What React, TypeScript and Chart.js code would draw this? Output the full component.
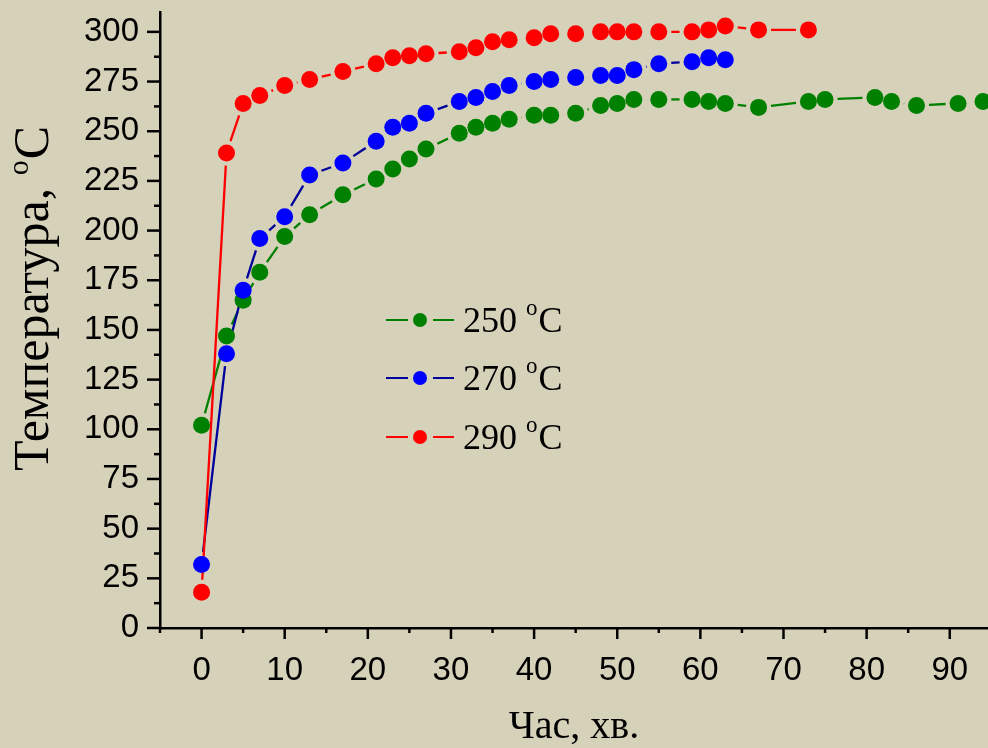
import React, { useEffect, useRef } from 'react';
import { Chart, registerables } from 'chart.js';

Chart.register(...registerables);

// ---- data ----
const t250 = [0, 3, 5, 7, 10, 13, 17, 21, 23, 25, 27, 31, 33, 35, 37, 40, 42, 45, 48, 50, 52, 55, 59, 61, 63, 67, 73, 75, 81, 83, 86, 91, 94];
const T250 = [102, 147, 165, 179, 197, 208, 218, 226, 231, 236, 241, 249, 252, 254, 256, 258, 258, 259, 263, 264, 266, 266, 266, 265, 264, 262, 265, 266, 267, 265, 263, 264, 265];

const t270 = [0, 3, 5, 7, 10, 13, 17, 21, 23, 25, 27, 31, 33, 35, 37, 40, 42, 45, 48, 50, 52, 55, 59, 61, 63];
const T270 = [32, 138, 170, 196, 207, 228, 234, 245, 252, 254, 259, 265, 267, 270, 273, 275, 276, 277, 278, 278, 281, 284, 285, 287, 286];

const t290 = [0, 3, 5, 7, 10, 13, 17, 21, 23, 25, 27, 31, 33, 35, 37, 40, 42, 45, 48, 50, 52, 55, 59, 61, 63, 67, 73];
const T290 = [18, 239, 264, 268, 273, 276, 280, 284, 287, 288, 289, 290, 292, 295, 296, 297, 299, 299, 300, 300, 300, 300, 300, 301, 303, 301, 301];

const xTicks = [0, 10, 20, 30, 40, 50, 60, 70, 80, 90];
const yTicks = [0, 25, 50, 75, 100, 125, 150, 175, 200, 225, 250, 275, 300];

const seriesLabels = ['250', '270', '290'];
const xTitle = 'Час, хв.';
const yTitle = 'Температура, ';
const supO = 'o';
const unitC = 'C';

// ---- styles ----
const BG = '#d6d1b9';
const markerColors = ['#008000', '#0000ff', '#ff0000'];
const lineColors = ['#008000', '#00009c', '#ff0000'];
const GAP = 12.5;

const toPts = (xs: number[], ys: number[]) => xs.map((x, i) => ({ x, y: ys[i] }));

const bgPlugin = {
  id: 'bgFill',
  beforeDraw(chart: any) {
    const { ctx, width, height } = chart;
    ctx.save();
    ctx.fillStyle = BG;
    ctx.fillRect(0, 0, width, height);
    ctx.restore();
  },
};

const gapLines = {
  id: 'gapLines',
  beforeDatasetsDraw(chart: any) {
    const ctx = chart.ctx;
    chart.data.datasets.forEach((ds: any, i: number) => {
      const pts = chart.getDatasetMeta(i).data;
      ctx.save();
      ctx.strokeStyle = ds.borderColor;
      ctx.lineWidth = 2.3;
      ctx.lineCap = 'butt';
      for (let k = 0; k < pts.length - 1; k++) {
        const a = pts[k];
        const b = pts[k + 1];
        const dx = b.x - a.x;
        const dy = b.y - a.y;
        const d = Math.hypot(dx, dy);
        if (d <= 2 * GAP) continue;
        const ux = dx / d;
        const uy = dy / d;
        ctx.beginPath();
        ctx.moveTo(a.x + ux * GAP, a.y + uy * GAP);
        ctx.lineTo(b.x - ux * GAP, b.y - uy * GAP);
        ctx.stroke();
      }
      ctx.restore();
    });
  },
};

const axisTicks = {
  id: 'axisTicks',
  afterDraw(chart: any) {
    const { ctx, chartArea } = chart;
    const xs = chart.scales.x;
    const ys = chart.scales.y;
    ctx.save();
    ctx.strokeStyle = '#000';
    ctx.lineWidth = 2.5;
    ctx.lineCap = 'butt';
    const yStep = yTicks[1] - yTicks[0];
    for (let v = ys.min; v <= ys.max + 1e-6; v += yStep / 2) {
      const isMajor = yTicks.includes(v);
      const py = ys.getPixelForValue(v);
      ctx.beginPath();
      ctx.moveTo(chartArea.left - (isMajor ? 13 : 6), py);
      ctx.lineTo(chartArea.left, py);
      ctx.stroke();
    }
    const xStep = xTicks[1] - xTicks[0];
    const start = Math.ceil(xs.min / (xStep / 2)) * (xStep / 2);
    for (let v = start; v <= xs.max + 1e-6; v += xStep / 2) {
      const isMajor = xTicks.includes(v);
      const px = xs.getPixelForValue(v);
      ctx.beginPath();
      ctx.moveTo(px, chartArea.bottom);
      ctx.lineTo(px, chartArea.bottom + (isMajor ? 11 : 5));
      ctx.stroke();
    }
    ctx.restore();
  },
};

const drawUnit = (ctx: any, x: number, y: number, size: number, supSize: number, raise: number) => {
  ctx.font = `${supSize}px "Liberation Serif"`;
  ctx.fillText(supO, x, y - raise);
  const w = ctx.measureText(supO).width;
  ctx.font = `${size}px "Liberation Serif"`;
  ctx.fillText(unitC, x + w + 1, y);
};

const titlesAndLegend = {
  id: 'titlesAndLegend',
  afterDraw(chart: any) {
    const ctx = chart.ctx;
    ctx.save();
    ctx.fillStyle = '#000';
    ctx.textBaseline = 'alphabetic';
    ctx.textAlign = 'left';
    // y title (rotated)
    ctx.save();
    ctx.translate(48, 471);
    ctx.rotate(-Math.PI / 2);
    ctx.font = '50px "Liberation Serif"';
    ctx.fillText(yTitle, 0, 0);
    const w = ctx.measureText(yTitle).width;
    drawUnit(ctx, w, 0, 50, 30, 20);
    ctx.restore();

    // legend
    const rows = [320, 378, 437];
    rows.forEach((cy, i) => {
      ctx.strokeStyle = lineColors[i];
      ctx.lineWidth = 2.2;
      ctx.beginPath();
      ctx.moveTo(386, cy);
      ctx.lineTo(408, cy);
      ctx.moveTo(433, cy);
      ctx.lineTo(454, cy);
      ctx.stroke();
      ctx.fillStyle = markerColors[i];
      ctx.beginPath();
      ctx.arc(420, cy, 7, 0, Math.PI * 2);
      ctx.fill();
      ctx.fillStyle = '#000';
      ctx.font = '36px "Liberation Serif"';
      const txt = seriesLabels[i] + ' ';
      ctx.fillText(txt, 463, cy + 12);
      const tw = ctx.measureText(txt).width;
      drawUnit(ctx, 463 + tw, cy + 12, 36, 23, 17);
    });
    ctx.restore();
  },
};

export default function App() {
  const ref = useRef<HTMLCanvasElement | null>(null);

  useEffect(() => {
    if (!ref.current) return;
    const series = [
      { label: seriesLabels[0], xs: t250, ys: T250, order: 2 },
      { label: seriesLabels[1], xs: t270, ys: T270, order: 1 },
      { label: seriesLabels[2], xs: t290, ys: T290, order: 0 },
    ];
    const chart = new Chart(ref.current, {
      type: 'scatter',
      data: {
        datasets: series.map((s, i) => ({
          label: s.label,
          data: toPts(s.xs, s.ys),
          order: s.order,
          showLine: false,
          borderColor: lineColors[i],
          backgroundColor: markerColors[i],
          pointBackgroundColor: markerColors[i],
          pointBorderWidth: 0,
          pointRadius: 8.5,
          pointHoverRadius: 8.5,
          clip: false as any,
        })),
      },
      options: {
        animation: false,
        responsive: false,
        events: [],
        layout: { autoPadding: false, padding: { top: 12, left: 0, right: 0, bottom: 0 } },
        plugins: {
          legend: { display: false },
          tooltip: { enabled: false },
        },
        scales: {
          x: {
            type: 'linear',
            min: -5,
            max: 94.6,
            afterBuildTicks: (s: any) => {
              s.ticks = xTicks.map((v) => ({ value: v }));
            },
            afterFit: (s: any) => {
              s.height = 120;
              s.paddingLeft = 0;
              s.paddingRight = 0;
              s.paddingTop = 0;
              s.paddingBottom = 0;
            },
            grid: { display: false, drawTicks: false },
            border: { display: true, color: '#000', width: 2.5 },
            ticks: {
              color: '#000',
              padding: 23,
              maxRotation: 0,
              autoSkip: false,
              font: { family: '"Liberation Sans", Arial', size: 33 },
              callback: (v: any) => String(v),
            },
            title: {
              display: true,
              text: xTitle,
              color: '#000',
              font: { family: '"Liberation Serif"', size: 40 },
              padding: { top: 0, bottom: -3 },
            },
          },
          y: {
            type: 'linear',
            min: 0,
            max: 310,
            afterBuildTicks: (s: any) => {
              s.ticks = yTicks.map((v) => ({ value: v }));
            },
            afterFit: (s: any) => {
              s.width = 160;
              s.paddingLeft = 0;
              s.paddingRight = 0;
              s.paddingTop = 0;
              s.paddingBottom = 0;
            },
            grid: { display: false, drawTicks: false },
            border: { display: true, color: '#000', width: 2.5 },
            ticks: {
              color: '#000',
              padding: 21,
              autoSkip: false,
              font: { family: '"Liberation Sans", Arial', size: 33 },
              callback: (v: any) => String(v),
            },
            title: { display: false },
          },
        },
      },
      plugins: [bgPlugin, gapLines, axisTicks, titlesAndLegend],
    });
    return () => chart.destroy();
  }, []);

  return (
    <div style={{ position: 'fixed', left: 0, top: 0, width: 988, height: 748, background: BG }}>
      <canvas ref={ref} width={988} height={748} style={{ width: 988, height: 748, display: 'block' }} />
    </div>
  );
}
